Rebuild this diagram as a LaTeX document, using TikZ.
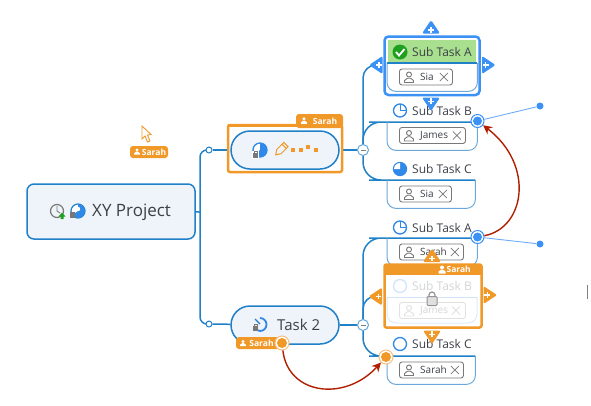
\documentclass[tikz,border=0pt]{standalone}
\usepackage{fontspec}
\setmainfont{Open Sans}
\usetikzlibrary{arrows.meta, positioning, backgrounds, calc}
\definecolor{linkblue}{RGB}{32,128,200}
\definecolor{thinblue}{RGB}{110,168,216}
\definecolor{pieblue}{RGB}{48,136,232}
\definecolor{handleblue}{RGB}{60,145,245}
\definecolor{paleblue}{RGB}{238,244,250}
\definecolor{sarahorange}{RGB}{240,152,40}
\definecolor{darkred}{RGB}{176,32,0}
\definecolor{headgreen}{RGB}{168,224,144}
\definecolor{tickgreen}{RGB}{32,160,32}
\definecolor{tagline}{RGB}{120,120,120}
\definecolor{inktext}{RGB}{60,64,70}
\tikzset{
  link/.style={linkblue, line width=1.5pt},
  thinlink/.style={handleblue!75, line width=0.9pt},
  redlink/.style={darkred, line width=1.4pt, -{Stealth[length=9pt,width=9pt]}},
  bodyline/.style={thinblue, line width=1pt},
  mainbox/.style={draw=linkblue, fill=paleblue, line width=1.5pt, rounded corners=7pt,
    inner sep=0pt, text=inktext},
  taskbox/.style={mainbox, rounded corners=19pt, minimum width=108pt, minimum height=38pt},
  subbody/.style={anchor=north west, inner sep=0pt, minimum width=90pt, minimum height=28pt},
  subtitle/.style={anchor=west, inner sep=0pt, text=inktext, font=\fontsize{12}{14}\selectfont},
  usertag/.style={anchor=west, draw=tagline, line width=0.9pt, rounded corners=2.5pt,
    fill=white, minimum height=16pt, inner sep=0pt},
  tagname/.style={anchor=west, inner sep=0pt, text=inktext, font=\fontsize{10}{12}\selectfont},
  sarahtag/.style={fill=sarahorange, text=white, inner sep=0pt, rounded corners=3pt,
    font=\fontsize{8.5}{10}\bfseries\selectfont},
  collapse/.style={circle, draw=linkblue!70, fill=white, line width=1pt, text=gray,
    minimum size=11pt, inner sep=0pt},
  joint/.style={circle, draw=linkblue, fill=white, line width=1pt, minimum size=6pt, inner sep=0pt},
  handlering/.style={circle, draw=handleblue, fill=white, line width=1pt, minimum size=13pt, inner sep=0pt},
  sarahring/.style={circle, draw=sarahorange!60, fill=white, line width=1pt, minimum size=14pt, inner sep=0pt},
  enddot/.style={circle, fill=handleblue, minimum size=7pt, inner sep=0pt},
  quarterpie/.pic={
    \draw[pieblue, line width=1.3pt, fill=white] (0,0) circle (6.5);
    \draw[pieblue, line width=1pt] (0,-6.5) -- (0,0) -- (6.5,0);
  },
  threepie/.pic={
    \draw[pieblue, line width=1.3pt, fill=pieblue] (0,0) circle (6.5);
    \fill[white] (0,0) -- (0,-6) arc (-90:-180:6) -- cycle;
  },
  person/.pic={
    \draw[pic actions, line width=0.9pt] (0,-2.5) circle (2.5);
    \draw[pic actions, line width=0.9pt] (-4.5,5.5) -- (-4.5,3.5) -- (-1.5,1.2) -- (1.5,1.2) -- (4.5,3.5) -- (4.5,5.5) -- cycle;
  },
  solidperson/.pic={
    \fill (0,-2) circle (2);
    \fill (-3.5,4) -- (-3.5,2) -- (-1,0.3) -- (1,0.3) -- (3.5,2) -- (3.5,4) -- cycle;
  },
  padlock/.pic={
    \draw[tagline!80, line width=1.2pt] (-3,-2.5) -- (-3,-4) arc (180:360:3) -- (3,-2.5);
    \draw[tagline!80, fill=gray!25, line width=1pt, rounded corners=1pt] (-5,-2.5) rectangle (5,6.5);
  },
  addtab/.pic={
    \fill[pic actions, rounded corners=1.5pt] (-9,6) -- (0,-7.5) -- (9,6) -- cycle;
    \draw[white, line width=1.4pt] (-2.8,2.3) -- (2.8,2.3) (0,-0.5) -- (0,5.1);
  }
}
\begin{document}
\begin{tikzpicture}[x=1pt, y=-1pt]
  \useasboundingbox (0,0) rectangle (591,405);

  % Root and tasks
  \node[mainbox, minimum width=168pt, minimum height=55pt] (root) at (111,211.5) {};
  \node[text=inktext, inner sep=0pt, anchor=west, font=\fontsize{17}{20}\selectfont] (roottext) at (92,212) {XY Project};

  \draw[sarahorange, fill=white, line width=2.5pt, rounded corners=2pt] (228,125) rectangle (342,172);
  \node[sarahtag, minimum width=47pt, minimum height=14pt] (tabone) at (319.5,121) {\hspace{11pt}Sarah};
  \fill[sarahorange] (228,123.5) rectangle (342,127);
  \node[taskbox] (taskone) at (285,150) {};
  \node[taskbox] (tasktwo) at (285,325) {};
  \node[text=inktext, inner sep=0pt, anchor=west, font=\fontsize{15}{18}\selectfont] (tasktext) at (277,325) {Task 2};

  \node[joint] (jointone) at (209,150) {};
  \node[joint] (jointtwo) at (209,324) {};
  \coordinate (trunk) at (200,212);
  \node[collapse] (minusone) at (363,150) {\rule{5pt}{1pt}};
  \node[collapse] (minustwo) at (363,325) {\rule{5pt}{1pt}};

  % Sub task bodies
  \node[subbody, minimum height=28pt] (subaone) at (387,63) {};
  \node[subbody] (subb) at (387,122) {};
  \node[subbody, minimum width=88pt] (subc) at (387,180) {};
  \node[subbody] (subatwo) at (387,238) {};
  \node[subbody, minimum width=88pt] (subctwo) at (387,356) {};

  \fill[headgreen] (388,39.5) rectangle (476,63);
  \foreach \b in {subaone,subb,subc,subatwo,subctwo} {
    \draw[bodyline, rounded corners=9pt] (\b.north west) -- (\b.south west) -- (\b.south east) -- (\b.north east);
  }
  \draw[link] (subaone.north west) -- (subaone.north east);
  \draw[handleblue, line width=2.5pt, rounded corners=4pt] (384.5,36.5) rectangle (479.5,95);

  % Titles
  \foreach \n/\y/\t in {ta/52/Sub Task A,tb/110.5/Sub Task B,tc/169/Sub Task C,td/227.5/Sub Task A,te/344/Sub Task C} {
    \node[subtitle] (\n) at (412,\y) {\t};
  }
  \fill[tickgreen] (400,52) circle (7.5);
  \draw[white, line width=1.8pt] (396,52) -- (399,55.5) -- (404.5,49);
  \pic at (400,110.5) {quarterpie};
  \pic at (400,169) {threepie};
  \pic at (400,227.5) {quarterpie};
  \draw[pieblue, line width=1.3pt] (400,344) circle (6.5);

  % User tags
  \foreach \n/\x/\y/\w/\t in {ua/399/77/53/Sia,ub/399/135.5/66/James,uc/399/194/52/Sia,ud/399/252/64/Sarah,ue/399/370/64/Sarah} {
    \node[usertag, minimum width=\w pt] (\n) at (\x,\y) {};
    \node[tagname] (\n text) at ($(\n.west)+(21,0)$) {\t};
    \pic[tagline] at ($(\n.west)+(10,0)$) {person};
    \draw[tagline, line width=0.8pt] ($(\n.east)+(-13,-4)$) -- ($(\n.east)+(-5,4)$) ($(\n.east)+(-13,4)$) -- ($(\n.east)+(-5,-4)$);
  }

  % Locked task
  \node[draw=sarahorange, fill=white, line width=2.5pt, rounded corners=2pt, inner sep=0pt,
    minimum width=97pt, minimum height=63pt] (lockbox) at (433,296) {};
  \fill[sarahorange] (384,264.5) rectangle (482,275);
  \node[text=white, inner sep=0pt, anchor=east, font=\fontsize{8.5}{10}\bfseries\selectfont] (locktab) at (471,269.5) {Sarah};
  \pic[white] at (442,269.5) {solidperson};
  \begin{scope}[opacity=0.22]
    \node[subtitle] (tf) at (412,286) {Sub Task B};
    \draw[pieblue, line width=1.3pt] (400,286) circle (6.5);
    \draw[pieblue, line width=1pt] (387,297) -- (477,297);
    \draw[bodyline, rounded corners=9pt] (387,297) -- (387,323) -- (477,323) -- (477,297);
    \node[usertag, minimum width=66pt] (uf) at (399,310.5) {};
    \node[tagname] (uftext) at (420,310.5) {James};
    \pic[tagline] at (409,310.5) {person};
    \draw[tagline, line width=0.8pt] (452,306.5) -- (460,314.5) (452,314.5) -- (460,306.5);
  \end{scope}
  \pic at (432,299) {padlock};

  % Add tabs
  \pic[fill=handleblue] at (431,27.5) {addtab};
  \pic[fill=handleblue, rotate=180] at (431,103.5) {addtab};
  \pic[fill=handleblue, rotate=90] at (376.5,65) {addtab};
  \pic[fill=handleblue, rotate=-90] at (488,65) {addtab};
  \pic[fill=sarahorange] at (432,256) {addtab};
  \pic[fill=sarahorange, rotate=180] at (432,336.5) {addtab};
  \pic[fill=sarahorange, rotate=90] at (376,296.5) {addtab};
  \pic[fill=sarahorange, rotate=-90] at (489.5,295) {addtab};
  \coordinate (tableft) at (376,65);
  \coordinate (lockleft) at (376,296);

  % Icons on the tasks
  \draw[linkblue, line width=1.2pt, fill=white] (78,211) circle (7);
  \fill[pieblue] (78,211) -- (78,204) arc (-90:90:7) -- (71,216) -- cycle;
  \fill[white] (78,209) circle (2.2);
  \fill[tagline] (70,212) rectangle (75,218);
  \draw[tagline, line width=1.2pt] (57,211) circle (6.5);
  \draw[tagline, line width=0.9pt] (57,206) -- (57,211) -- (60,213);
  \fill[tickgreen] (62,212.5) -- (65.5,216.5) -- (63.5,216.5) -- (63.5,219) -- (60.5,219) -- (60.5,216.5) -- (58.5,216.5) -- cycle;

  \draw[pieblue, line width=1.3pt, fill=white] (260,150) circle (7);
  \fill[pieblue] (260,150) -- (260,143) arc (-90:100:7) -- (254,155) -- cycle;
  \fill[white] (252,151) rectangle (259,158.5);
  \fill[tagline] (253,153) rectangle (258,158);
  \draw[tagline, line width=0.8pt] (254,153) -- (254,151.5) -- (257,151.5) -- (257,153);
  \begin{scope}[sarahorange, line width=1pt, shift={(281,149.5)}, rotate=-45]
    \draw (-3,-7) -- (3,-7) -- (3,3) -- (0,7.5) -- (-3,3) -- cycle;
    \draw (-3,-4.5) -- (3,-4.5);
  \end{scope}
  \foreach \x/\y in {293/150,301/150,308/147,316/150} {
    \fill[sarahorange] (\x-1.8,\y-1.8) rectangle (\x+1.8,\y+1.8);
  }
  \draw[pieblue, line width=1.8pt] (260,318) arc (-90:125:6.5);
  \draw[linkblue, line width=1.2pt] (255,319) -- (260,324);
  \fill[tagline] (253,326) rectangle (258,331);
  \draw[tagline, line width=0.8pt] (254,326) -- (254,324.5) -- (257,324.5) -- (257,326);

  % Presence tags and pointer
  \draw[sarahorange, fill=white, fill opacity=0.6, line width=0.9pt] (142,126) -- (142,139) -- (145,136) -- (147.5,142) -- (150,141) -- (147.5,135) -- (151,134.5) -- cycle;
  \node[sarahtag, minimum width=38pt, minimum height=12pt] (tagfree) at (149,152) {\hspace{10pt}Sarah};
  \pic[white, scale=0.8] at (137,151.5) {solidperson};
  \pic[white, scale=0.85] at (304,120.5) {solidperson};
  \node[sarahtag, minimum width=44pt, minimum height=12pt] (tagtwo) at (258,343) {\hspace{7pt}Sarah};
  \pic[white, scale=0.8] at (243,343) {solidperson};

  % Handles
  \node[handlering] (ringb) at (477.5,121) {};
  \fill[handleblue] (ringb.center) circle (4.5);
  \node[handlering] (ringa) at (477.5,237) {};
  \fill[handleblue] (ringa.center) circle (4.5);
  \node[enddot] (dotb) at (540,106) {};
  \node[enddot] (dota) at (540,244) {};
  \node[sarahring] (ringtwo) at (282,343) {};
  \fill[sarahorange] (ringtwo.center) circle (5);
  \node[sarahring] (ringc) at (386,357) {};
  \fill[sarahorange] (ringc.center) circle (5);

  % Text cursor
  \draw[gray, line width=0.7pt] (588,285) -- (587,285) -- (587,298) -- (588,298);

  % Connectors
  \draw[redlink] (ringa) .. controls (525,228) and (535,165) .. (ringb);
  \draw[redlink] (ringtwo) .. controls (288,395) and (345,402) .. (ringc);
  \begin{scope}[on background layer]
    \draw[thinlink] (ringb) -- (dotb);
    \draw[thinlink] (ringa) -- (dota);
    \draw[link] (root) -- (trunk);
    \draw[link, rounded corners=7pt] (trunk) |- (jointone);
    \draw[link, rounded corners=7pt] (trunk) |- (jointtwo);
    \draw[link] (jointone) -- (taskone);
    \draw[link] (jointtwo) -- (tasktwo);
    \draw[link] (taskone) -- (minusone);
    \draw[link] (tasktwo) -- (minustwo);
    \draw[link, rounded corners=13pt] (minusone) |- (tableft);
    \draw[link, rounded corners=18pt] (minusone) |- (subb.north west) -- (subb.north east);
    \draw[link, rounded corners=18pt] (minusone) |- (subc.north west) -- (subc.north east);
    \draw[link, rounded corners=18pt] (minustwo) |- (subatwo.north west) -- (subatwo.north east);
    \draw[link, rounded corners=13pt] (minustwo) |- (lockleft);
    \draw[link, rounded corners=18pt] (minustwo) |- (subctwo.north west) -- (subctwo.north east);
  \end{scope}
\end{tikzpicture}
\end{document}
